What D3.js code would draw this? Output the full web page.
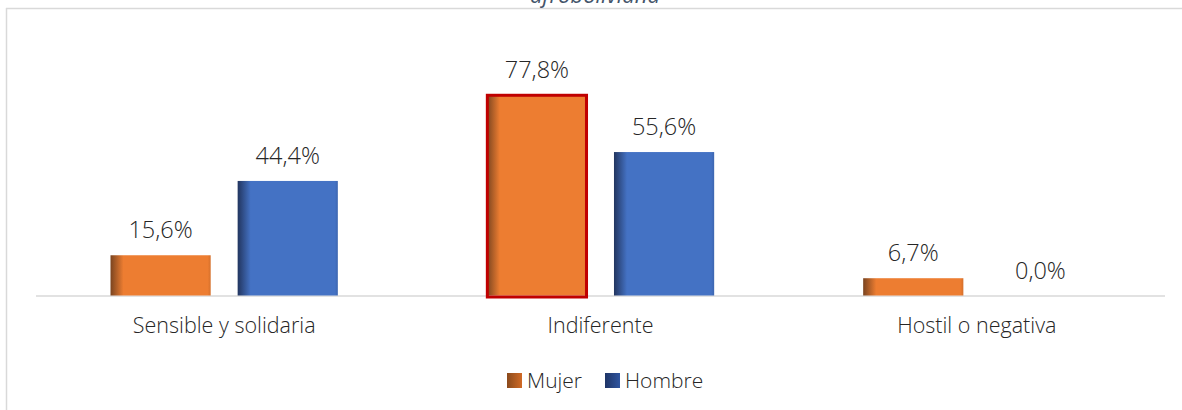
<!DOCTYPE html>
<html><head><meta charset="utf-8">
<script src="https://cdn.jsdelivr.net/npm/d3@7"></script>
<style>body{margin:0;background:#fff;} svg{display:block;}</style>
</head><body>
<svg id="c" width="1182" height="410"></svg>
<script>
const categories = ["Sensible y solidaria", "Indiferente", "Hostil o negativa"];
const seriesNames = ["Mujer", "Hombre"];
const mujer = [15.6, 77.8, 6.7];
const hombre = [44.4, 55.6, 0.0];
const title = "afroboliviana";

const svg = d3.select("#c");
const font = "'Open Sans', 'Noto Sans', sans-serif";
const txt = "#262626";
const fw = 300;

// frame
svg.append("line").attr("x1",6).attr("x2",1182).attr("y1",8.5).attr("y2",8.5).attr("stroke","#d9d9d9").attr("stroke-width",1.5);
svg.append("line").attr("x1",6.5).attr("x2",6.5).attr("y1",8).attr("y2",410).attr("stroke","#d9d9d9").attr("stroke-width",1.5);

svg.append("text").attr("x",595).attr("y",3).attr("text-anchor","middle")
  .attr("font-family",font).attr("font-style","italic").attr("font-size",22)
  .attr("fill","#44546A").text(title);

const defs = svg.append("defs");
function grad(id, dark, base){
  const g = defs.append("linearGradient").attr("id",id).attr("x1","0").attr("x2","1").attr("y1","0").attr("y2","0");
  g.append("stop").attr("offset","0").attr("stop-color",dark);
  g.append("stop").attr("offset","0.13").attr("stop-color",base);
  g.append("stop").attr("offset","0.97").attr("stop-color",base);
  g.append("stop").attr("offset","1").attr("stop-color",d3.color(base).darker(0.3));
}
grad("gM","#7a4420","#ED7D31");
grad("gH","#22355f","#4472C4");
function lgrad(id, a, b){
  const g = defs.append("linearGradient").attr("id",id).attr("x1","0").attr("x2","1");
  g.append("stop").attr("offset","0").attr("stop-color",a);
  g.append("stop").attr("offset","1").attr("stop-color",b);
}
lgrad("lM","#8a4a1c","#d06a25");
lgrad("lH","#1f3566","#2f55a0");

const x0 = d3.scaleBand().domain(categories).range([36,1165]).paddingInner(0).paddingOuter(0);
const x1 = d3.scaleBand().domain(seriesNames).range([74.5, x0.bandwidth()-74.5]).paddingInner(0.212);
const y = d3.scaleLinear().domain([0,100]).range([295.5, 37.5]);

svg.append("line").attr("x1",36).attr("x2",1165).attr("y1",296).attr("y2",296).attr("stroke","#d9d9d9").attr("stroke-width",1.5);

const data = categories.map((c,i)=>({c, vals:[{s:"Mujer",v:mujer[i]},{s:"Hombre",v:hombre[i]}]}));
const g = svg.selectAll("g.cat").data(data).join("g").attr("transform",d=>`translate(${x0(d.c)},0)`);
g.selectAll("rect").data(d=>d.vals.filter(e=>e.v>0).map(e=>({...e,c:d.c}))).join("rect")
  .attr("x",d=>x1(d.s)).attr("width",x1.bandwidth())
  .attr("y",d=>y(d.v)).attr("height",d=>y(0)-y(d.v))
  .attr("fill",d=>d.s==="Mujer"?"url(#gM)":"url(#gH)");
// highlight border
g.filter(d=>d.c==="Indiferente").append("rect")
  .attr("x",x1("Mujer")+0.5).attr("width",x1.bandwidth()-1)
  .attr("y",y(mujer[1])+0.5).attr("height",y(0)-y(mujer[1])+1)
  .attr("fill","none").attr("stroke","#C00000").attr("stroke-width",3);

g.selectAll("text.lbl").data(d=>d.vals).join("text").attr("class","lbl")
  .attr("x",d=>x1(d.s)+x1.bandwidth()/2).attr("y",d=>y(d.v)-17)
  .attr("text-anchor","middle").attr("font-family",font).attr("font-weight",fw).attr("font-size",23.5).attr("fill",txt)
  .text(d=>d.v.toFixed(1).replace(".",",")+"%");

svg.selectAll("text.cat").data(categories).join("text").attr("class","cat")
  .attr("x",d=>x0(d)+x0.bandwidth()/2).attr("y",333).attr("text-anchor","middle")
  .attr("font-family",font).attr("font-weight",fw).attr("font-size",21.5).attr("fill",txt).text(d=>d);

// legend
const leg = [{s:"Mujer",f:"url(#lM)",x:507},{s:"Hombre",f:"url(#lH)",x:605}];
leg.forEach(l=>{
  svg.append("rect").attr("x",l.x).attr("y",373).attr("width",15).attr("height",15).attr("fill",l.f);
  svg.append("text").attr("x",l.x+20).attr("y",388).attr("font-family",font).attr("font-weight",fw).attr("font-size",21).attr("fill",txt).text(l.s);
});
</script>
</body></html>
